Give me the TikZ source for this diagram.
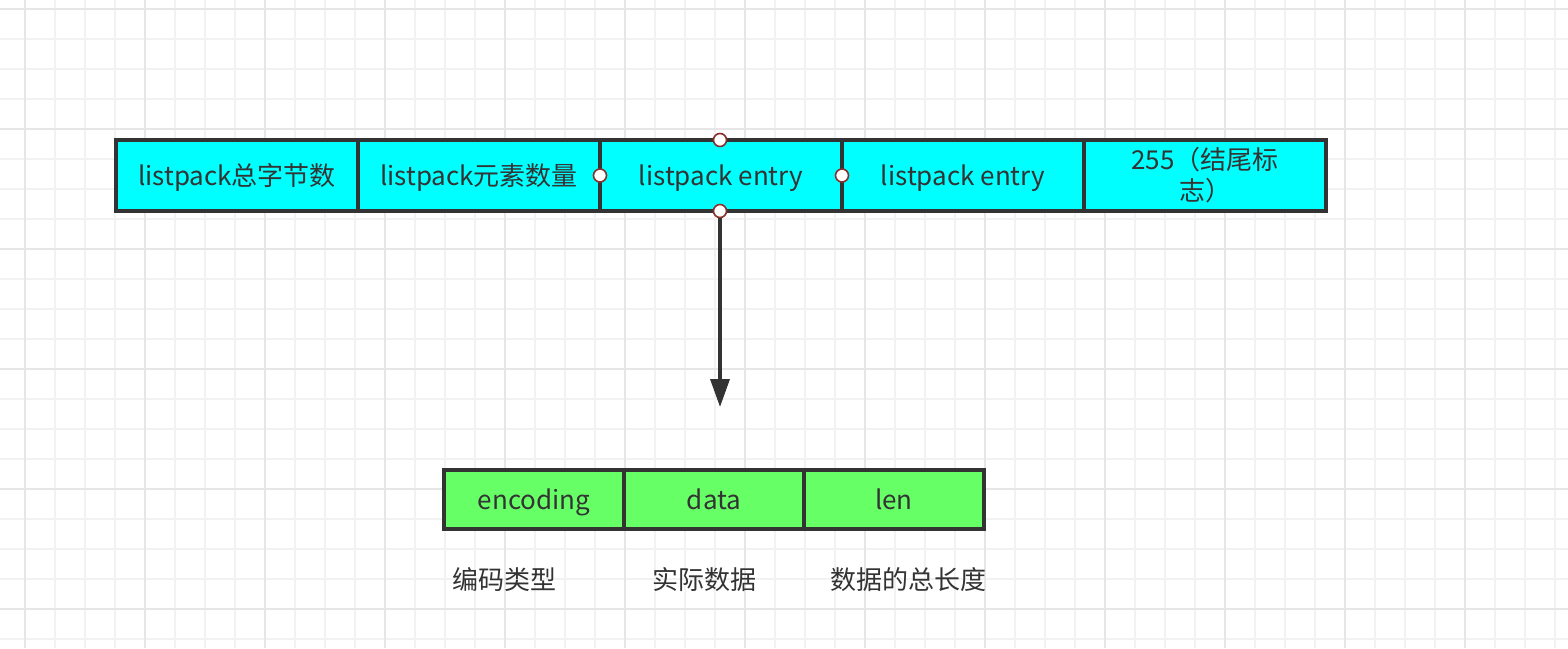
\documentclass[tikz,border=0pt]{standalone}
\usepackage{fontspec}
\setmainfont{Noto Sans CJK SC}
\usetikzlibrary{arrows.meta}
\definecolor{ink}{HTML}{333333}
\definecolor{gminor}{HTML}{F2F2F2}
\definecolor{gmajor}{HTML}{E6E6E6}
\definecolor{cyanbox}{HTML}{00FFFF}
\definecolor{greenbox}{HTML}{66FF66}
\definecolor{dotred}{HTML}{8B2E2E}
\tikzset{
  cell/.style={draw=ink, line width=3.5pt, text=ink, font=\fontsize{26}{31}\selectfont, inner sep=0pt, outer sep=0pt, align=center},
  oneline/.style={text height=23pt, text depth=4pt},
  topcell/.style={cell, fill=cyanbox, minimum width=242pt, minimum height=71pt},
  botcell/.style={cell, oneline, fill=greenbox, minimum width=180pt, minimum height=59pt},
  lbl/.style={text=ink, font=\fontsize{26}{31}\selectfont, inner sep=0pt},
  cdot/.style={circle, draw=dotred, fill=white, line width=1.6pt, minimum size=13pt, inner sep=0pt},
  arr/.style={draw=ink, line width=3.5pt, -{Triangle[length=28pt, width=19pt]}}
}
\begin{document}
\begin{tikzpicture}[x=1pt, y=-1pt]
\useasboundingbox (0,0) rectangle (1568,648);
\fill[white] (0,0) rectangle (1568,648);
% grid
\foreach \x in {-5,25,...,1570} \draw[gminor, line width=1.6pt] (\x,0) -- (\x,648);
\foreach \y in {-21,9,...,650} \draw[gminor, line width=1.6pt] (0,\y) -- (1568,\y);
\foreach \x in {25,145,...,1570} \draw[gmajor, line width=1.8pt] (\x,0) -- (\x,648);
\foreach \y in {9,129,...,650} \draw[gmajor, line width=1.8pt] (0,\y) -- (1568,\y);
% top row
\node[topcell, oneline] (t1) at (237,175.5) {listpack总字节数};
\node[topcell, oneline] (t2) at (479,175.5) {listpack元素数量};
\node[topcell, oneline] (t3) at (721,175.5) {listpack entry};
\node[topcell, oneline] (t4) at (963,175.5) {listpack entry};
\node[topcell] (t5) at (1205,175.5) {255（结尾标\\志）};
% bottom row
\node[botcell] (b1) at (534,499.5) {encoding};
\node[botcell] (b2) at (714,499.5) {data};
\node[botcell] (b3) at (894,499.5) {len};
% labels
\node[lbl] (l1) at (504,580) {编码类型};
\node[lbl] (l2) at (704,580) {实际数据};
\node[lbl] (l3) at (908,580) {数据的总长度};
% arrow
\coordinate (tip) at (720,407);
\draw[arr] (t3.south -| tip) -- (tip);
% connection dots
\node[cdot] (d1) at (t3.north -| tip) {};
\node[cdot] (d2) at (t3.south -| tip) {};
\node[cdot] (d3) at (t3.west) {};
\node[cdot] (d4) at (t3.east) {};
\end{tikzpicture}
\end{document}
